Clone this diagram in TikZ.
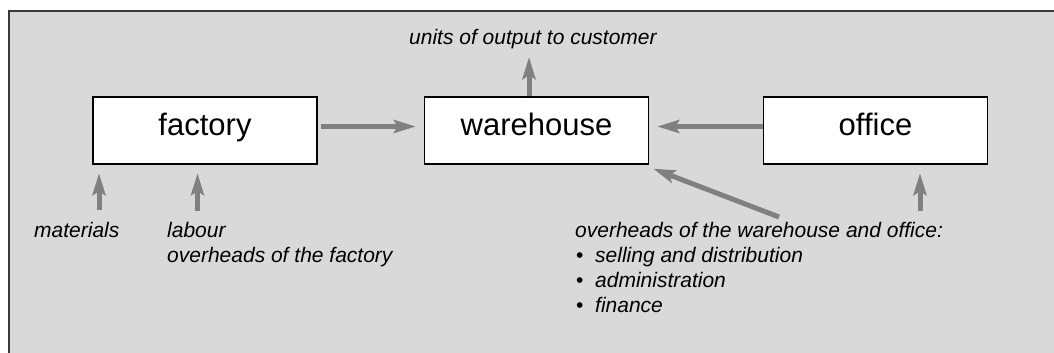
\documentclass[tikz,border=0pt]{standalone}
\usepackage{fontspec}
\setmainfont{Liberation Sans}
\usetikzlibrary{arrows.meta}
\definecolor{panelgray}{HTML}{D9D9D9}
\definecolor{flowgray}{HTML}{808080}
\definecolor{edgegray}{HTML}{3A3A3A}
\begin{document}
\begin{tikzpicture}[x=1pt,y=-1pt,
  unitbox/.style={draw=black, line width=1.3pt, fill=white,
    minimum width=224pt, minimum height=67pt, inner sep=0pt,
    text height=20pt, text depth=11pt,
    font=\fontsize{31}{36}\selectfont},
  note/.style={anchor=base west, inner sep=0pt,
    font=\itshape\fontsize{21}{25}\selectfont},
  flow/.style={draw=flowgray, line width=5pt,
    -{Stealth[length=22pt, width=13pt, inset=4pt]}},
  bulletmark/.style={anchor=base west, inner sep=0pt,
    font=\fontsize{21}{25}\selectfont}]
  \useasboundingbox (0,0) rectangle (1054,353);

  % background panel
  \fill[panelgray] (9,11) rectangle (1054,353);
  \draw[edgegray, line width=1.5pt] (9,353) -- (9,11) -- (1054,11);

  % the three units
  \node[unitbox] (factory)   at (205,130.5)   {factory};
  \node[unitbox] (warehouse) at (536.5,130.5) {warehouse};
  \node[unitbox] (office)    at (875.5,130.5) {office};

  % labels
  \node[note] (units) at (409,45) {units of output to customer};
  \node[note] (materials) at (34,237) {materials};
  \node[note] (labour) at (167,237) {labour};
  \node[note] (fohead) at (167,262) {overheads of the factory};
  \node[note] (wohead) at (575,237) {overheads of the warehouse and office:};
  \node[bulletmark] (b1) at (576,262.5) {•};
  \node[note] (selling) at (595,262.5) {selling and distribution};
  \node[bulletmark] (b2) at (576,287.5) {•};
  \node[note] (admin) at (595,287.5) {administration};
  \node[bulletmark] (b3) at (576,312.5) {•};
  \node[note] (finance) at (595,312.5) {finance};

  % arrow tails
  \coordinate (mat) at (99,210);
  \coordinate (lab) at (197.5,210.5);
  \coordinate (offin) at (920,210.5);
  \coordinate (ovh) at (779,217);

  % flows between units
  \draw[flow, shorten <=3pt, shorten >=8pt]
    ([yshift=4pt]factory.east) -- ([yshift=4pt]warehouse.west);
  \draw[flow, shorten >=8pt]
    ([yshift=4pt]office.west) -- ([yshift=4pt]warehouse.east);
  \draw[flow, shorten >=7.5pt]
    ([xshift=-7.5pt]warehouse.north) -- ([xshift=-7.5pt]warehouse.north |- units.south);

  % inputs
  \draw[flow, shorten >=8.5pt] (mat) -- (mat |- factory.south);
  \draw[flow, shorten >=8.5pt] (lab) -- (lab |- factory.south);
  \draw[flow, shorten >=8.5pt] (offin) -- (offin |- office.south);
  \draw[flow] (ovh) -- ([xshift=4pt,yshift=-4pt]warehouse.south east);
\end{tikzpicture}
\end{document}
